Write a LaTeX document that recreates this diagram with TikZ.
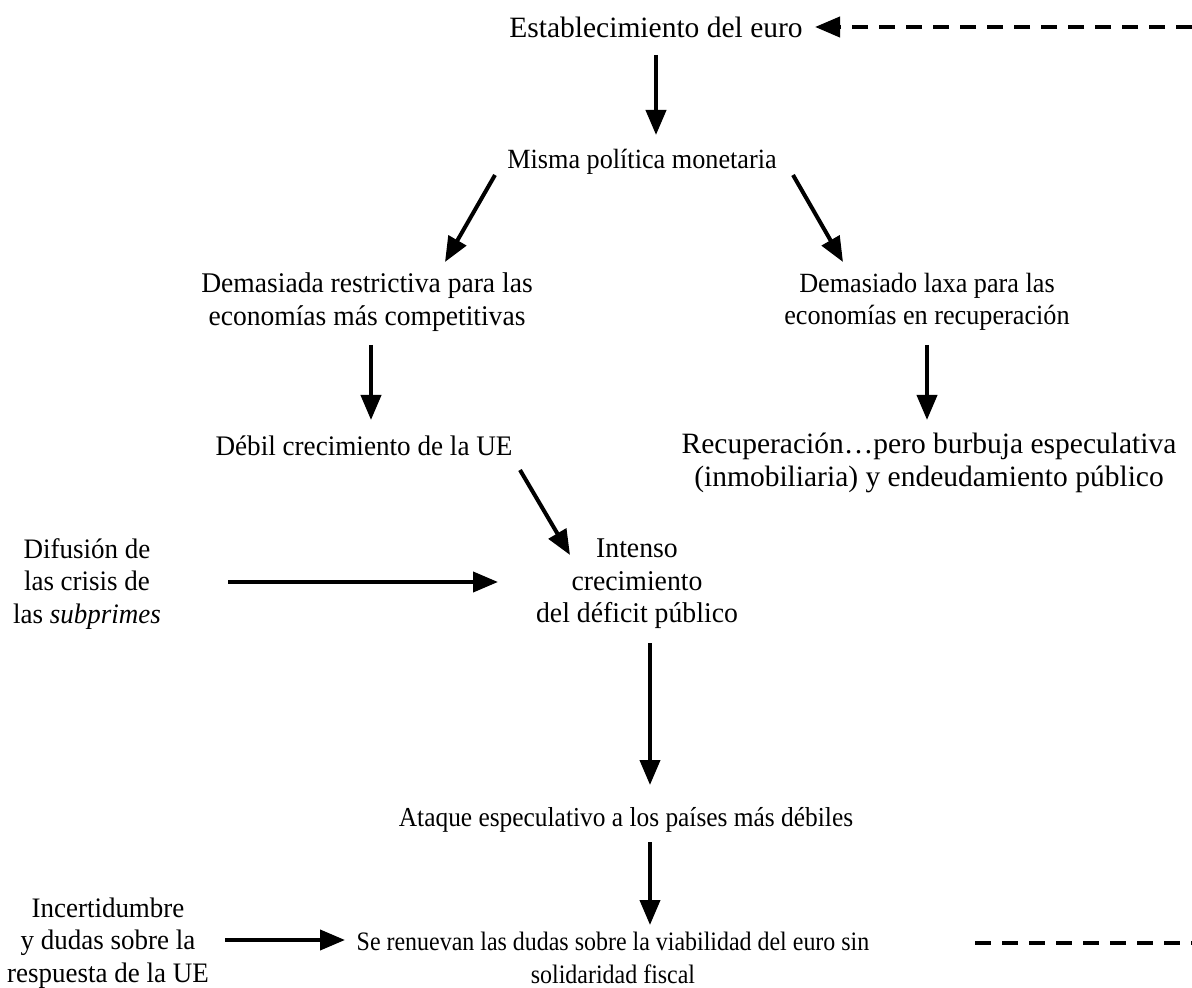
\documentclass[tikz,border=0pt]{standalone}
\usepackage{fontspec}
\setmainfont{Liberation Serif}
\usetikzlibrary{calc}
\usetikzlibrary{arrows.meta}

\begin{document}
\begin{tikzpicture}[x=0.5pt, y=-0.5pt,
    every node/.append style={inner sep=0pt, align=center},
    texto/.style n args={2}{font={\fontsize{#1}{16.3}\selectfont\addfontfeatures{FakeStretch=#2}}},
    flecha/.style={line width=2pt, -{Triangle[length=12.5pt, width=10pt]}},
    discont/.style={line width=2pt, dash pattern=on 8pt off 5.5pt}]
    \useasboundingbox (0,0) rectangle (1192,988);
    \node[texto={14.75}{1}] (est) at (656,27) {Establecimiento del euro};
    \node[texto={13.9}{0.943}] (misma) at (642,162) {Misma política monetaria};
    \node[texto={14.25}{0.967}] (restr) at (367,302) {Demasiada restrictiva para las\\economías más competitivas};
    \node[texto={13.9}{0.943}] (laxa) at (927,302) {Demasiado laxa para las\\economías en recuperación};
    \node[texto={14.15}{0.959}] (debil) at (364,446) {Débil crecimiento de la UE};
    \node[texto={14.75}{1}] (recup) at (929,463) {Recuperación…pero burbuja especulativa\\(inmobiliaria) y endeudamiento público};
    \node[texto={14.1}{0.957}] (difusion) at (87,584) {Difusión de\\las crisis de\\las \textit{subprimes}};
    \node[texto={14.3}{0.97}] (intenso) at (637,584) {Intenso\\crecimiento\\del déficit público};
    \node[texto={13.7}{0.927}] (ataque) at (626,820) {Ataque especulativo a los países más débiles};
    \node[texto={14.1}{0.957}] (incert) at (108,943) {Incertidumbre\\y dudas sobre la\\respuesta de la UE};
    \node[texto={13.3}{0.9}] (renuevan) at (613,958) {Se renuevan las dudas sobre la viabilidad del euro sin\\solidaridad fiscal};
    \coordinate (bordesup) at (1192,27);
    \coordinate (bordeinf) at (1192,943);
    \draw[flecha] ($(est)+(0,28)$) -- ($(misma)+(14,-27)$);
    \draw[flecha] ($(misma)+(-147,13)$) -- ($(restr)+(78,-40)$);
    \draw[flecha] ($(misma)+(151,13)$) -- ($(laxa)+(-84,-40)$);
    \draw[flecha] ($(restr)+(4,43)$) -- ($(debil)+(7,-26)$);
    \draw[flecha] ($(laxa)+(0,43)$) -- ($(recup)+(-2,-43)$);
    \draw[flecha] ($(debil)+(156,24)$) -- ($(intenso)+(-67,-29)$);
    \draw[flecha] ($(difusion)+(141,-2)$) -- ($(intenso)+(-139,-2)$);
    \draw[flecha] ($(intenso)+(13,59)$) -- ($(ataque)+(24,-35)$);
    \draw[flecha] ($(ataque)+(24,22)$) -- ($(renuevan)+(37,-33)$);
    \draw[flecha] ($(incert)+(117,-3)$) -- ($(renuevan)+(-268,-18)$);
    \draw[discont] ($(renuevan)+(362,-15)$) -- (bordeinf);
    \draw[discont, -{Triangle[length=12.5pt, width=10pt]}] (bordesup) -- ($(est)+(159,0)$);
\end{tikzpicture}
\end{document}
